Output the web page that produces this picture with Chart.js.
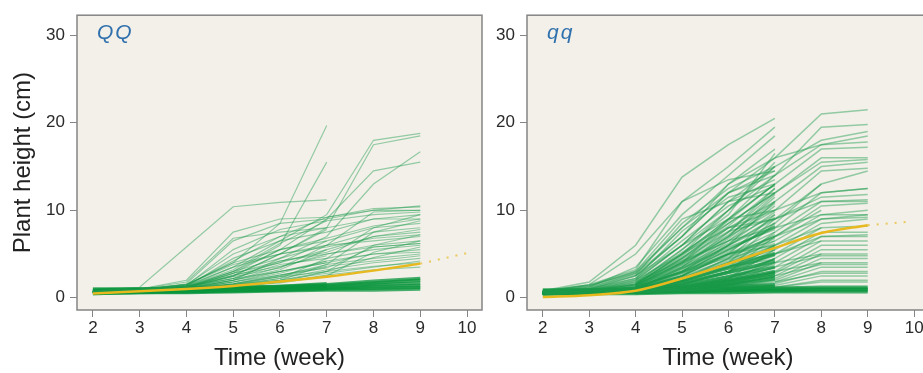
<!DOCTYPE html>
<html>
<head>
<meta charset="utf-8">
<script src="https://cdn.jsdelivr.net/npm/chart.js@4.4.1/dist/chart.umd.min.js"></script>
<style>
  html, body { margin: 0; padding: 0; background: #fff; overflow: hidden; width: 923px; height: 373px; }
  canvas { position: absolute; top: 0; }
  #chartQQ { left: 0; }
  #chartqq { left: 460px; }
</style>
</head>
<body>
<canvas id="chartQQ" width="490" height="373"></canvas>
<canvas id="chartqq" width="477" height="373"></canvas>
<script>
// weeks where plant height was measured
const weeks = [2, 3, 4, 5, 6, 7, 8, 9];
const xTicks = [2, 3, 4, 5, 6, 7, 8, 9, 10];
const yTicks = [0, 10, 20, 30];

// QQ genotype: single plants (heights in cm for weeks 2..9, null = not measured)
const plantsQQ = [
  [0.8, 1.2, 5.8, 10.4, 10.9, 11.2, null, null],
  [0.7, 0.9, 1.5, 4.0, 8.5, 19.7, null, null],
  [0.7, 0.9, 1.3, 3.0, 6.0, 15.5, null, null],
  [0.8, 1.0, 1.4, 3.5, 6.5, 9.5, 18.0, 18.8],
  [0.7, 0.9, 1.2, 2.5, 5.0, 8.0, 17.5, 18.5],
  [0.6, 0.9, 1.1, 2.0, 4.5, 7.0, 13.0, 16.7],
  [0.7, 0.9, 1.2, 2.8, 5.5, 9.0, 14.5, 15.5],
  [0.8, 1.0, 2.0, 7.5, 9.0, 9.2, 10.2, 10.4],
  [0.7, 0.9, 1.6, 6.5, 8.5, 9.0, 10.0, 10.0],
  [0.6, 0.9, 1.4, 5.5, 7.8, 8.8, 9.5, 9.8],
  [0.7, 1.0, 1.8, 6.8, 7.5, 8.0, 9.0, 9.5],
  [0.6, 0.8, 1.3, 4.5, 6.5, 7.5, 9.0, 9.0],
  [0.8, 1.0, 1.5, 4.0, 5.5, 6.5, 8.0, 8.5],
  [0.7, 0.9, 1.2, 3.0, 4.5, 6.0, 7.5, 8.0],
  [0.6, 0.8, 1.1, 2.5, 4.0, 5.5, 7.0, 7.5],
  [0.7, 0.9, 1.3, 3.5, 5.0, 6.0, 6.5, 7.0],
  [0.6, 0.8, 1.1, 2.0, 3.5, 5.0, 6.0, 6.5],
  [0.7, 0.9, 1.2, 2.2, 3.8, 4.5, 5.5, 6.0],
  [0.6, 0.8, 1.0, 1.8, 3.0, 4.0, 5.0, 5.5],
  [0.7, 0.9, 1.1, 1.6, 2.5, 3.8, 4.5, 5.0],
  [0.6, 0.8, 1.0, 1.5, 2.2, 3.2, 4.0, 4.5],
  [0.7, 0.8, 1.0, 1.4, 2.0, 3.0, 3.6, 4.0],
  [0.6, 0.8, 1.0, 1.3, 1.8, 2.6, 3.2, 3.5],
  [0.7, 0.9, 1.2, 2.5, 5.0, 7.8, null, null],
  [0.6, 0.8, 1.1, 2.8, 4.0, 6.5, null, null],
  [0.7, 0.9, 1.3, 3.2, 6.2, 8.8, null, null],
  [0.8, 1.0, 1.5, 5.0, 7.0, 8.0, null, null],
  [0.6, 0.8, 1.0, 2.0, 3.2, 5.5, null, null],
  [0.7, 0.9, 1.1, 1.8, 2.8, 4.2, null, null],
  [0.6, 0.8, 1.0, 1.5, 2.4, 3.5, null, null],
  [0.7, 0.9, 1.4, 4.2, 7.0, 9.2, 10.0, 10.5],
  [0.6, 0.8, 1.0, 1.4, 2.2, 4.5, 8.0, 9.5],
  [0.7, 0.8, 1.0, 1.3, 2.0, 3.8, 7.5, 8.8],
  [0.6, 0.8, 1.0, 1.2, 1.8, 3.0, 6.0, 7.2],
  [0.7, 0.9, 1.0, 1.3, 1.7, 2.5, 5.2, 6.5],
  [0.6, 0.8, 1.2, 3.0, 5.5, 6.8, 8.2, 9.0],
  [0.7, 0.9, 1.3, 2.2, 4.2, 5.2, 7.0, 7.8],
  [0.6, 0.8, 1.0, 1.6, 2.6, 3.4, 5.8, 6.2],
  [0.7, 0.9, 1.5, 3.8, 5.0, 5.8, 6.8, 7.2],
  [0.6, 0.8, 1.2, 2.8, 4.2, 5.0, 5.8, 6.2],
  [0.7, 0.9, 1.1, 2.0, 3.0, 4.2, 5.0, 5.2],
  [0.6, 0.8, 1.0, 1.8, 2.6, 3.6, 4.2, 4.8],
  [0.6, 0.8, 1.0, 1.5, 2.0, 2.8, 3.5, 4.2],
  [0.7, 0.8, 1.3, 2.6, 3.6, 4.8, null, null],
  [0.6, 0.8, 1.1, 2.2, 3.0, 4.0, null, null],
  [0.7, 0.9, 1.2, 2.4, 3.4, 6.0, 9.8, 10.0],
  [0.6, 0.8, 1.0, 1.6, 2.4, 3.0, 4.6, 5.8]
];
// QQ plants that stayed short (dense band)
const bandQQ = [
  [0.5, 0.6, 0.6, 0.7, 0.8, 0.9, 0.9, 1.0],
  [0.6, 0.7, 0.7, 0.8, 0.9, 1.0, 1.1, 1.2],
  [0.7, 0.8, 0.8, 0.9, 1.0, 1.1, 1.3, 1.4],
  [0.8, 0.9, 0.9, 1.0, 1.1, 1.2, 1.5, 1.7],
  [0.9, 1.0, 1.0, 1.1, 1.2, 1.4, 1.7, 2.0],
  [1.0, 1.0, 1.1, 1.2, 1.3, 1.5, 1.9, 2.2],
  [0.6, 0.7, 0.8, 0.9, 1.1, 1.3, null, null],
  [0.8, 0.9, 1.0, 1.1, 1.3, 1.6, null, null],
  [0.5, 0.6, 0.7, 0.8, 0.9, 1.1, null, null]
];
const meanQQ = [0.5, 0.75, 1.0, 1.35, 1.85, 2.4, 3.1, 3.9];
const trendWeeksQQ = [9, 10];
const trendQQ = [3.9, 5.1];

// qq genotype: single plants
const plantsqq = [
  [null, null, 1.2, 4.0, 9.0, 14.0, null, null],
  [null, null, 1.0, 3.5, 7.5, 12.5, null, null],
  [null, null, 0.8, 2.5, 6.0, 11.0, null, null],
  [null, null, 1.5, 5.0, 10.0, 15.5, null, null],
  [null, null, 0.9, 2.0, 4.5, 9.0, null, null],
  [null, null, 0.7, 1.8, 3.5, 7.5, null, null],
  [null, null, 1.1, 3.0, 5.5, 8.0, null, null],
  [null, null, 0.8, 1.5, 3.0, 6.0, null, null],
  [null, null, 0.6, 1.2, 2.2, 4.5, null, null],
  [null, null, 0.7, 1.0, 1.8, 3.5, null, null],
  [null, null, 1.3, 4.5, 8.0, 10.0, null, null],
  [null, null, 2.0, 6.0, 11.0, 13.5, null, null],
  [null, null, 2.5, 7.0, 12.0, 14.5, null, null],
  [null, null, 1.0, 2.8, 5.0, 6.5, null, null],
  [null, null, 0.6, 0.9, 1.4, 2.5, null, null],
  [null, null, 0.5, 0.8, 1.2, 2.0, null, null],
  [null, null, 1.6, 5.5, 9.5, 16.5, null, null],
  [null, null, 0.9, 2.2, 4.0, 5.0, null, null],
  [null, null, 1.2, 3.8, 7.0, 11.5, null, null],
  [null, null, 0.7, 1.6, 2.8, 4.0, null, null],
  [null, null, 1.4, 4.2, 6.5, 9.5, null, null],
  [null, null, 1.8, 5.2, 8.5, 12.0, null, null],
  [null, null, 0.8, 2.0, 3.8, 5.5, null, null],
  [null, null, 1.0, 2.5, 4.8, 7.0, null, null],
  [null, null, 1.0, 3.2, 6.8, 10.8, null, null],
  [null, null, 1.3, 3.6, 6.2, 9.8, null, null],
  [null, null, 0.9, 2.6, 5.2, 8.6, null, null],
  [null, null, 1.1, 2.9, 4.6, 7.2, null, null],
  [null, null, 0.8, 2.2, 4.2, 6.8, null, null],
  [null, null, 0.7, 1.9, 3.4, 5.8, null, null],
  [null, null, 0.9, 1.7, 3.0, 4.8, null, null],
  [null, null, 0.6, 1.3, 2.4, 3.8, null, null],
  [null, null, 1.6, 4.8, 8.8, 13.0, null, null],
  [null, null, 2.2, 6.5, 10.5, 12.8, null, null],
  [null, null, 1.4, 4.0, 7.2, 11.0, null, null],
  [null, null, 1.0, 3.4, 5.8, 7.8, null, null],
  [null, null, 1.2, 3.0, 5.0, 6.0, null, null],
  [null, null, 0.9, 2.4, 3.6, 4.4, null, null],
  [null, null, 1.5, 4.4, 7.6, 9.0, null, null],
  [null, null, 1.1, 3.3, 5.6, 8.2, null, null],
  [0.6, 0.9, 1.6, 4.6, 8.2, 12.5, null, null],
  [0.5, 0.8, 1.4, 3.8, 7.0, 11.8, null, null],
  [0.6, 0.8, 1.2, 3.4, 6.0, 9.2, null, null],
  [0.5, 0.7, 1.1, 2.9, 5.4, 8.2, null, null],
  [0.5, 0.7, 1.0, 2.4, 4.4, 6.2, null, null],
  [0.6, 0.7, 0.9, 1.9, 3.6, 5.2, null, null],
  [0.7, 1.2, 2.6, 8.5, 12.5, 15.0, null, null],
  [0.6, 1.0, 2.2, 7.6, 11.5, 13.0, null, null],
  [0.8, 1.8, 6.0, 13.8, 17.5, 20.5, null, null],
  [0.7, 1.5, 5.0, 11.0, 15.0, 19.5, null, null],
  [0.6, 1.2, 3.5, 9.5, 14.0, 18.5, null, null],
  [0.7, 1.3, 3.0, 8.0, 13.0, 17.0, null, null],
  [0.8, 1.4, 2.8, 7.0, 12.0, 16.0, null, null],
  [0.6, 1.0, 2.2, 6.0, 10.0, 15.0, null, null],
  [0.5, 0.8, 1.5, 5.0, 9.0, 13.0, null, null],
  [0.6, 0.9, 1.8, 4.2, 7.5, 12.0, null, null],
  [0.7, 0.8, 1.2, 3.0, 6.5, 10.5, null, null],
  [0.5, 0.7, 1.0, 2.5, 5.0, 9.5, null, null],
  [0.6, 0.8, 1.1, 2.0, 4.0, 8.5, null, null],
  [0.5, 0.6, 0.9, 1.5, 3.0, 7.0, null, null],
  [0.4, 0.6, 0.8, 1.2, 2.2, 5.5, null, null],
  [0.6, 0.7, 0.9, 1.1, 1.8, 4.5, null, null],
  [0.5, 0.6, 0.8, 1.0, 1.5, 3.0, null, null],
  [0.8, 1.5, 3.2, 11.0, 13.5, 14.5, null, null],
  [0.7, 1.4, 3.0, 9.0, 11.0, 12.0, null, null],
  [0.6, 1.0, 2.5, 7.0, 13.0, 16.0, 21.0, 21.5],
  [0.7, 1.1, 2.8, 8.0, 12.0, 14.0, 19.5, 19.8],
  [0.6, 0.9, 2.0, 6.0, 11.0, 15.0, 18.0, 19.0],
  [0.5, 0.8, 1.8, 5.5, 10.0, 14.0, 17.5, 18.5],
  [0.6, 0.9, 1.6, 5.0, 9.0, 13.0, 17.0, 17.2],
  [0.5, 0.8, 1.5, 4.5, 8.5, 12.0, 16.0, 16.0],
  [0.6, 0.8, 1.4, 4.0, 8.0, 11.0, 15.0, 15.5],
  [0.5, 0.7, 1.3, 3.5, 7.0, 10.0, 14.5, 14.8],
  [0.6, 0.8, 1.2, 3.0, 6.0, 8.5, 13.0, 14.5],
  [0.5, 0.7, 1.1, 2.8, 5.5, 8.0, 12.0, 12.5],
  [0.6, 0.8, 1.2, 2.5, 5.0, 7.5, 11.0, 11.2],
  [0.5, 0.7, 1.0, 2.2, 4.5, 7.0, 10.5, 10.8],
  [0.6, 0.7, 1.0, 2.0, 4.0, 6.5, 9.5, 10.0],
  [0.5, 0.7, 1.0, 1.8, 3.5, 6.0, 9.0, 9.5],
  [0.5, 0.6, 0.9, 1.6, 3.0, 5.5, 8.5, 9.0],
  [0.6, 0.7, 0.9, 1.5, 2.8, 5.0, 8.0, 8.2],
  [0.5, 0.6, 0.8, 1.4, 2.5, 4.5, 7.5, 7.5],
  [0.5, 0.6, 0.8, 1.3, 2.2, 4.0, 7.0, 7.0],
  [0.4, 0.6, 0.8, 1.2, 2.0, 3.5, 6.5, 6.5],
  [0.5, 0.6, 0.7, 1.1, 1.8, 3.0, 6.0, 6.0],
  [0.4, 0.5, 0.7, 1.0, 1.6, 2.8, 5.5, 5.5],
  [0.5, 0.6, 0.7, 1.0, 1.5, 2.5, 5.0, 5.0],
  [0.4, 0.5, 0.6, 0.9, 1.4, 2.2, 4.5, 4.5],
  [0.5, 0.6, 0.7, 0.9, 1.3, 2.0, 4.0, 4.0],
  [0.4, 0.5, 0.6, 0.8, 1.2, 1.8, 3.5, 3.5],
  [0.5, 0.5, 0.6, 0.8, 1.1, 1.6, 3.0, 3.0],
  [0.4, 0.5, 0.6, 0.8, 1.0, 1.4, 2.5, 2.5],
  [0.4, 0.5, 0.6, 0.7, 0.9, 1.2, 2.0, 2.0],
  [0.7, 1.0, 2.5, 6.0, 9.0, 10.0, 12.0, 12.5],
  [0.6, 0.9, 2.0, 5.0, 8.0, 9.0, 11.0, 11.0],
  [0.5, 0.8, 1.5, 4.0, 6.5, 8.0, 9.5, 9.5],
  [0.5, 0.7, 1.2, 3.0, 6.0, 9.0, 13.0, null],
  [0.5, 0.6, 1.0, 2.5, 5.0, 7.0, 10.0, null],
  [0.4, 0.6, 0.9, 2.0, 4.0, 6.0, 8.0, null],
  [0.5, 0.6, 0.8, 1.5, 3.0, 5.0, 6.5, null],
  [0.4, 0.5, 0.7, 1.2, 2.2, 4.0, 5.0, null],
  [0.4, 0.5, 0.7, 1.0, 1.8, 3.0, 4.0, null],
  [null, null, null, null, null, 16.0, 17.5, 17.8],
  [null, null, null, null, null, 12.0, 15.5, 15.8],
  [null, null, null, null, null, 9.0, 11.5, 11.8],
  [null, null, null, null, null, 7.0, 9.0, 9.2],
  [null, null, null, null, null, 5.0, 7.0, 7.2],
  [null, null, null, null, null, 3.5, 4.8, 4.8],
  [null, null, null, null, null, 2.5, 3.8, 3.8],
  [null, null, null, null, null, 1.8, 2.8, 2.8],
  [null, null, null, null, null, 1.2, 1.8, 1.8]
];
// qq plants that stayed short (dense band)
const bandqq = [
  [0.4, 0.5, 0.5, 0.6, 0.6, 0.7, 0.7, 0.7],
  [0.5, 0.6, 0.6, 0.7, 0.8, 0.8, 0.9, 0.9],
  [0.6, 0.7, 0.7, 0.8, 0.9, 1.0, 1.0, 1.0],
  [0.7, 0.8, 0.8, 0.9, 1.0, 1.1, 1.2, 1.2],
  [0.8, 0.9, 0.9, 1.0, 1.1, 1.3, null, null],
  [0.9, 0.9, 1.0, 1.1, 1.3, 1.5, null, null],
  [null, null, 0.6, 0.9, 1.5, 2.2, null, null],
  [null, null, 0.7, 1.1, 1.9, 2.8, null, null],
  [null, null, 0.8, 1.4, 2.4, 3.5, null, null],
  [null, null, 0.7, 1.2, 2.0, 3.0, null, null],
  [null, null, 0.6, 1.0, 1.6, 2.5, null, null],
  [null, null, 0.9, 1.7, 2.9, 4.2, null, null],
  [null, null, 1.0, 2.0, 3.4, 5.0, null, null]
];
const meanqq = [0.1, 0.3, 0.8, 2.2, 3.9, 5.7, 7.4, 8.3];
const trendWeeksqq = [9, 9.9];
const trendqq = [8.3, 8.7];

const toPoints = row => row.map((v, i) => ({ x: weeks[i], y: v }));

Chart.defaults.font.family = '"Liberation Sans", Arial, sans-serif';
Chart.defaults.color = '#2a2a2a';

// beige plot background, grey frame and genotype label
const panelPlugin = {
  id: 'panel',
  beforeDraw(chart) {
    const a = chart.chartArea, ctx = chart.ctx;
    ctx.save();
    ctx.fillStyle = '#f3f0ea';
    ctx.fillRect(a.left, a.top, a.right - a.left, a.bottom - a.top);
    ctx.restore();
  },
  afterDatasetsDraw(chart, args, opts) {
    const a = chart.chartArea, ctx = chart.ctx;
    ctx.save();
    ctx.strokeStyle = '#858585';
    ctx.lineWidth = 1.5;
    ctx.strokeRect(a.left, a.top, a.right - a.left, a.bottom - a.top);
    ctx.fillStyle = '#2f70ad';
    ctx.font = 'italic 21px "Liberation Sans", Arial, sans-serif';
    ctx.letterSpacing = '2px';
    ctx.textBaseline = 'middle';
    ctx.fillText(opts.label, a.left + 20, 33);
    ctx.restore();
  }
};

function makePanel(id, label, plants, band, mean, trendWeeks, trend, yWidth, showYTitle, lineWidth) {
  const datasets = [];
  datasets.push({ data: toPoints(mean), borderColor: '#e8b81f', borderWidth: 2.5,
    cubicInterpolationMode: 'monotone', order: 0 });
  datasets.push({ data: trendWeeks.map((w, i) => ({ x: w, y: trend[i] })),
    borderColor: 'rgba(232,184,31,0.7)', borderWidth: 2, borderDash: [2, 7], order: 0 });
  plants.forEach(row => datasets.push({ data: toPoints(row),
    borderColor: 'rgba(28,155,75,0.45)', borderWidth: lineWidth, order: 1 }));
  band.forEach(row => datasets.push({ data: toPoints(row),
    borderColor: 'rgba(10,150,60,0.75)', borderWidth: 3.5, order: 1 }));

  const axisGrid = { drawOnChartArea: false, drawTicks: true, tickLength: 7, color: '#858585' };

  return new Chart(document.getElementById(id), {
    type: 'line',
    data: { datasets },
    plugins: [panelPlugin],
    options: {
      responsive: false,
      animation: false,
      events: [],
      layout: { padding: { top: 13, right: 8, left: 0, bottom: 0 } },
      elements: { point: { radius: 0 }, line: { tension: 0 } },
      scales: {
        x: {
          type: 'linear', min: 1.66, max: 10.32,
          afterBuildTicks: s => { s.ticks = xTicks.map(v => ({ value: v })); },
          afterFit: s => { s.height = 63; },
          grid: axisGrid,
          border: { display: false },
          ticks: { font: { size: 17 }, padding: 1, maxRotation: 0, autoSkip: false },
          title: { display: true, text: 'Time (week)', color: '#222', font: { size: 24 }, padding: { top: 2, bottom: 0 } }
        },
        y: {
          type: 'linear', min: -1.4, max: 32.3,
          afterBuildTicks: s => { s.ticks = yTicks.map(v => ({ value: v })); },
          afterFit: s => { s.width = yWidth; },
          grid: axisGrid,
          border: { display: false },
          ticks: { font: { size: 17 }, padding: 5 },
          title: { display: showYTitle, text: 'Plant height (cm)', color: '#222',
            font: { size: 24 }, padding: { top: 9, bottom: 0 } }
        }
      },
      plugins: {
        legend: { display: false },
        tooltip: { enabled: false },
        panel: { label: label }
      }
    }
  });
}

makePanel('chartQQ', 'QQ', plantsQQ, bandQQ, meanQQ, trendWeeksQQ, trendQQ, 77, true, 1.2);
makePanel('chartqq', 'qq', plantsqq, bandqq, meanqq, trendWeeksqq, trendqq, 67, false, 1.5);
</script>
</body>
</html>
